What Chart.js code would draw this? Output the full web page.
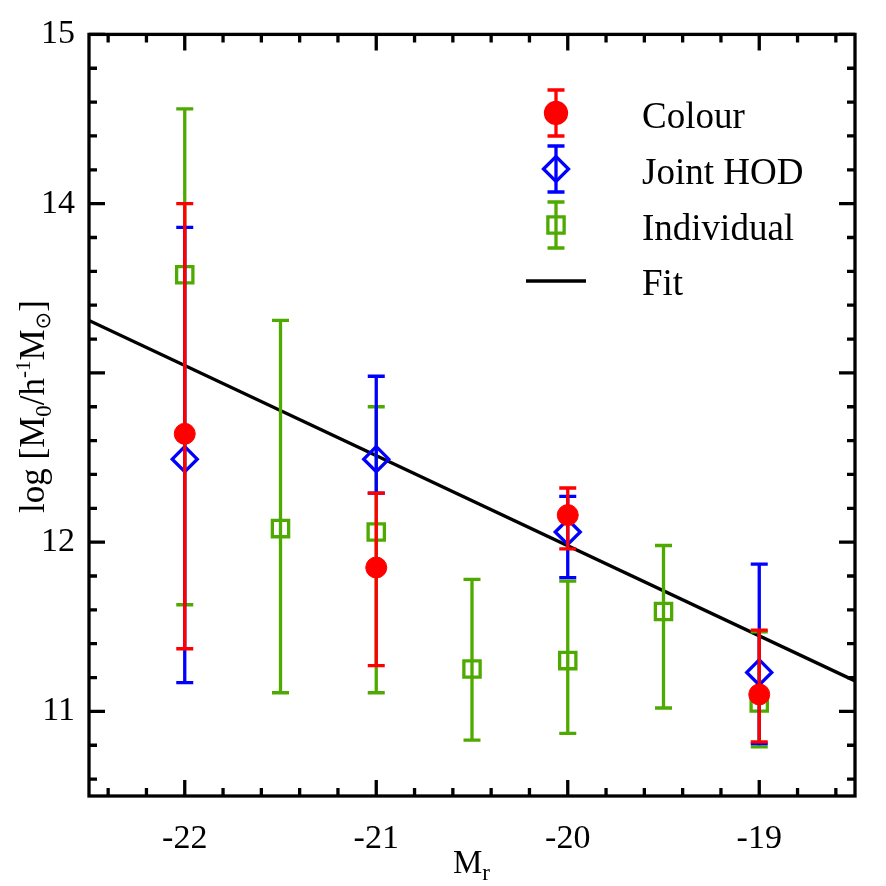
<!DOCTYPE html>
<html>
<head>
<meta charset="utf-8">
<script src="https://cdn.jsdelivr.net/npm/chart.js@4.4.0/dist/chart.umd.min.js"></script>
<style>
    html, body { margin: 0; padding: 0; background: #fff; }
    canvas { display: block; }
</style>
</head>
<body>
<canvas id="hodChart" width="886" height="886"></canvas>
<script>
// ===== DATA =====
const magBins = [-22, -21, -20, -19];

const colourY  = [12.64, 11.85, 12.16, 11.10];
const colourHi = [14.00, 12.29, 12.32, 11.48];
const colourLo = [11.37, 11.27, 11.96, 10.82];

const jointY  = [12.49, 12.49, 12.06, 11.23];
const jointHi = [13.86, 12.98, 12.27, 11.87];
const jointLo = [11.17, 12.29, 11.79, 10.81];

const indivX  = [-22, -21.5, -21, -20.5, -20, -19.5, -19];
const indivY  = [13.58, 12.08, 12.06, 11.25, 11.30, 11.59, 11.05];
const indivHi = [14.56, 13.31, 12.80, 11.78, 11.77, 11.98, 11.47];
const indivLo = [11.63, 11.11, 11.11, 10.83, 10.87, 11.02, 10.79];

const fitX = [-22.5, -18.5];
const fitY = [13.31, 11.18];

const xLabelTicks = [-22, -21, -20, -19];
const yLabelTicks = [11, 12, 14, 15];   // 13 has a tick but no label
const xMajor = [-22, -21, -20, -19];
const yMajor = [11, 12, 13, 14, 15];

const RED = '#ff0000';
const BLUE = '#0000ff';
const GREEN = '#4eaa00';
const SERIF = "'Liberation Serif', 'Times New Roman', serif";
const CAP = 8.5;
const LW = 3.3;

function toPoints(xs, ys) {
    return xs.map((x, i) => ({ x: x, y: ys[i] }));
}

// error bars, drawn just before each dataset's markers
const errorBarsPlugin = {
    id: 'errorBars',
    beforeDatasetDraw(chart, args) {
        const ds = chart.data.datasets[args.index];
        if (!ds.errLo) return;
        const ctx = chart.ctx;
        const xs = chart.scales.x, ys = chart.scales.y;
        ctx.save();
        ctx.strokeStyle = ds.borderColor;
        ctx.lineWidth = LW;
        ds.data.forEach((p, i) => {
            const px = xs.getPixelForValue(p.x);
            const top = ys.getPixelForValue(ds.errHi[i]);
            const bot = ys.getPixelForValue(ds.errLo[i]);
            ctx.beginPath();
            ctx.moveTo(px, top); ctx.lineTo(px, bot);
            ctx.moveTo(px - CAP, top); ctx.lineTo(px + CAP, top);
            ctx.moveTo(px - CAP, bot); ctx.lineTo(px + CAP, bot);
            ctx.stroke();
        });
        ctx.restore();
    }
};

function drawRich(ctx, parts, x, y) {
    let cx = x;
    parts.forEach(p => {
        ctx.font = p.font;
        ctx.fillText(p.text, cx, y + (p.dy || 0));
        cx += ctx.measureText(p.text).width;
    });
}

// box with inward ticks on all four sides, titles, legend
const framePlugin = {
    id: 'frame',
    afterDatasetsDraw(chart) {
        const ctx = chart.ctx;
        const a = chart.chartArea;
        const xs = chart.scales.x, ys = chart.scales.y;
        ctx.save();
        ctx.strokeStyle = '#000';
        ctx.lineWidth = LW;
        ctx.beginPath();
        // minor ticks every 0.2
        for (let v = -22.4; v < -18.5; v += 0.2) {
            const val = Math.round(v * 10) / 10;
            const px = xs.getPixelForValue(val);
            const len = xMajor.includes(val) ? 16 : 8;
            ctx.moveTo(px, a.bottom); ctx.lineTo(px, a.bottom - len);
            ctx.moveTo(px, a.top); ctx.lineTo(px, a.top + len);
        }
        for (let v = 10.6; v < 15; v += 0.2) {
            const val = Math.round(v * 10) / 10;
            const py = ys.getPixelForValue(val);
            const len = yMajor.includes(val) ? 16 : 8;
            ctx.moveTo(a.left, py); ctx.lineTo(a.left + len, py);
            ctx.moveTo(a.right, py); ctx.lineTo(a.right - len, py);
        }
        ctx.stroke();
        ctx.strokeRect(a.left, a.top, a.right - a.left, a.bottom - a.top);
        ctx.restore();
    },
    afterDraw(chart) {
        const ctx = chart.ctx;
        ctx.save();
        ctx.fillStyle = '#000';
        ctx.textBaseline = 'alphabetic';
        ctx.textAlign = 'left';

        // x title
        drawRich(ctx, [
            { text: 'M', font: `33px ${SERIF}` },
            { text: 'r', font: `23px ${SERIF}`, dy: 7 }
        ], 453, 873);

        // y title (rotated)
        ctx.save();
        ctx.translate(44, 513);
        ctx.rotate(-Math.PI / 2);
        drawRich(ctx, [
            { text: 'log [M', font: `35px ${SERIF}` },
            { text: '0', font: `23px ${SERIF}`, dy: 7 },
            { text: '/h', font: `35px ${SERIF}` },
            { text: '-1', font: `21px ${SERIF}`, dy: -14 },
            { text: 'M', font: `35px ${SERIF}` },
            { text: '\u2299', font: `21px 'DejaVu Sans', sans-serif`, dy: 6 },
            { text: ']', font: `35px ${SERIF}` }
        ], 0, 0);
        ctx.restore();

        // legend
        const lx = 556, tx = 642;
        const rows = [
            { ds: 3, y: 113, base: 128 },
            { ds: 2, y: 169, base: 184 },
            { ds: 1, y: 225, base: 240 },
            { ds: 0, y: 281, base: 295 }
        ];
        rows.forEach(r => {
            const ds = chart.data.datasets[r.ds];
            ctx.lineWidth = LW;
            ctx.strokeStyle = ds.borderColor;
            if (ds.errLo) {
                ctx.beginPath();
                ctx.moveTo(lx, r.y - 23); ctx.lineTo(lx, r.y + 23);
                ctx.moveTo(lx - CAP, r.y - 23); ctx.lineTo(lx + CAP, r.y - 23);
                ctx.moveTo(lx - CAP, r.y + 23); ctx.lineTo(lx + CAP, r.y + 23);
                ctx.stroke();
                ctx.fillStyle = ds.backgroundColor;
                Chart.helpers.drawPoint(ctx, {
                    pointStyle: ds.pointStyle,
                    radius: ds.pointRadius,
                    rotation: 0,
                    borderWidth: ds.borderWidth
                }, lx, r.y);
            } else {
                ctx.beginPath();
                ctx.moveTo(526, r.y); ctx.lineTo(586, r.y);
                ctx.stroke();
            }
            ctx.fillStyle = '#000';
            ctx.font = `37px ${SERIF}`;
            ctx.fillText(ds.label, tx, r.base);
        });
        ctx.restore();
    }
};

Chart.defaults.color = '#000';
Chart.defaults.font.family = SERIF;

const chart = new Chart(document.getElementById('hodChart').getContext('2d'), {
    type: 'scatter',
    data: {
        datasets: [
            {
                type: 'line',
                label: 'Fit',
                data: toPoints(fitX, fitY),
                borderColor: '#000',
                borderWidth: LW,
                pointRadius: 0,
                fill: false,
                order: 4
            },
            {
                label: 'Individual',
                data: toPoints(indivX, indivY),
                errHi: indivHi,
                errLo: indivLo,
                pointStyle: 'rect',
                pointRadius: 11.5,
                borderWidth: LW,
                borderColor: GREEN,
                backgroundColor: 'rgba(0,0,0,0)',
                order: 3
            },
            {
                label: 'Joint HOD',
                data: toPoints(magBins, jointY),
                errHi: jointHi,
                errLo: jointLo,
                pointStyle: 'rectRot',
                pointRadius: 12.5,
                borderWidth: LW,
                borderColor: BLUE,
                backgroundColor: 'rgba(0,0,0,0)',
                order: 2
            },
            {
                label: 'Colour',
                data: toPoints(magBins, colourY),
                errHi: colourHi,
                errLo: colourLo,
                pointStyle: 'circle',
                pointRadius: 10.5,
                borderWidth: 1,
                borderColor: RED,
                backgroundColor: RED,
                order: 1
            }
        ]
    },
    options: {
        responsive: false,
        animation: false,
        devicePixelRatio: 1,
        layout: { padding: { top: 29, right: 31, left: 0, bottom: 0 } },
        plugins: {
            legend: { display: false },
            tooltip: { enabled: false }
        },
        scales: {
            x: {
                type: 'linear',
                min: -22.5,
                max: -18.5,
                grid: { display: false, drawTicks: false },
                border: { display: false },
                ticks: {
                    font: { size: 34, family: SERIF },
                    color: '#000',
                    padding: 23
                },
                afterBuildTicks: scale => { scale.ticks = xLabelTicks.map(v => ({ value: v })); },
                afterFit: scale => { scale.height = 90; }
            },
            y: {
                type: 'linear',
                min: 10.5,
                max: 15,
                grid: { display: false, drawTicks: false },
                border: { display: false },
                ticks: {
                    font: { size: 34, family: SERIF },
                    color: '#000',
                    padding: 14
                },
                afterBuildTicks: scale => { scale.ticks = yLabelTicks.map(v => ({ value: v })); },
                afterFit: scale => { scale.width = 89; }
            }
        }
    },
    plugins: [errorBarsPlugin, framePlugin]
});
</script>
</body>
</html>
